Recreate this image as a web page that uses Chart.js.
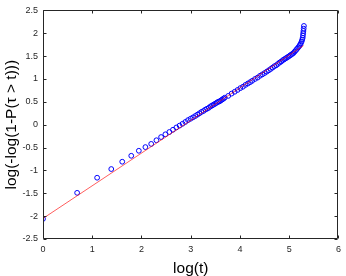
<!DOCTYPE html>
<html>
<head>
<meta charset="utf-8">
<script src="https://cdn.jsdelivr.net/npm/chart.js@4.4.0/dist/chart.umd.min.js"></script>
<style>
  html, body { margin: 0; padding: 0; background: #fff; }
  #wrap { width: 346px; height: 276px; }
</style>
</head>
<body>
<div id="wrap"><canvas id="chartContainer" width="346" height="276"></canvas></div>
<script>
var logT = [0, 0.693, 1.099, 1.386, 1.609, 1.792, 1.946, 2.079, 2.197, 2.303,
    2.398, 2.485, 2.565, 2.639, 2.708, 2.773, 2.833, 2.890, 2.944, 2.996,
    3.045, 3.091, 3.135, 3.178, 3.219, 3.258, 3.296, 3.332, 3.367, 3.401,
    3.434, 3.466, 3.497, 3.526, 3.555, 3.584, 3.611, 3.638, 3.664, 3.689,
    3.761, 3.829, 3.892, 3.951, 4.007, 4.060, 4.111, 4.159, 4.205, 4.248,
    4.304, 4.357, 4.407, 4.454, 4.500, 4.543, 4.585, 4.625, 4.663, 4.700,
    4.736, 4.771, 4.804, 4.836, 4.868, 4.898, 4.927, 4.956, 4.984, 5.011,
    5.037, 5.063, 5.088, 5.112, 5.136, 5.159, 5.182, 5.204, 5.220, 5.236,
    5.252, 5.263, 5.273, 5.278, 5.283, 5.288, 5.293, 5.298];
var logLogS = [-2.06, -1.49, -1.16, -0.97, -0.81, -0.68, -0.57, -0.49, -0.42, -0.34,
    -0.27, -0.21, -0.16, -0.11, -0.06, -0.02, 0.02, 0.06, 0.10, 0.13,
    0.16, 0.19, 0.22, 0.25, 0.28, 0.30, 0.33, 0.35, 0.37, 0.40,
    0.42, 0.44, 0.46, 0.48, 0.50, 0.51, 0.53, 0.55, 0.57, 0.59,
    0.63, 0.68, 0.72, 0.76, 0.80, 0.83, 0.87, 0.90, 0.93, 0.96,
    1.00, 1.03, 1.07, 1.10, 1.13, 1.16, 1.19, 1.22, 1.25, 1.28,
    1.30, 1.33, 1.36, 1.38, 1.41, 1.43, 1.45, 1.47, 1.49, 1.51,
    1.53, 1.55, 1.57, 1.60, 1.63, 1.66, 1.69, 1.72, 1.75, 1.78,
    1.82, 1.86, 1.90, 1.95, 2.00, 2.05, 2.10, 2.16];

// fitted straight line
var fitX = [0, 5.29];
var fitY = [-2.05, 1.73];

var xTicks = [0, 1, 2, 3, 4, 5, 6];
var yTicks = [-2.5, -2, -1.5, -1, -0.5, 0, 0.5, 1, 1.5, 2, 2.5];

var pts = logT.map(function(x, i){ return {x: x, y: logLogS[i]}; });
var fitPts = fitX.map(function(x, i){ return {x: x, y: fitY[i]}; });

var axisColor = '#262626';

// matlab style box with inward ticks on all four sides
var boxPlugin = {
    id: 'box',
    afterDatasetsDraw: function(chart){
        var ctx = chart.ctx, a = chart.chartArea;
        var xs = chart.scales.x, ys = chart.scales.y;
        ctx.save();
        ctx.strokeStyle = axisColor;
        ctx.lineWidth = 1;
        var L = Math.round(a.left) + 0.5, R = Math.round(a.right) - 0.5;
        var T = Math.round(a.top) + 0.5, B = Math.round(a.bottom) - 0.5;
        ctx.beginPath();
        ctx.rect(L, T, R - L, B - T);
        xTicks.forEach(function(v){
            var px = Math.round(xs.getPixelForValue(v)) + 0.5;
            ctx.moveTo(px, B); ctx.lineTo(px, B - 3);
            ctx.moveTo(px, T); ctx.lineTo(px, T + 3);
        });
        yTicks.forEach(function(v){
            var py = Math.round(ys.getPixelForValue(v)) + 0.5;
            ctx.moveTo(L, py); ctx.lineTo(L + 3, py);
            ctx.moveTo(R, py); ctx.lineTo(R - 3, py);
        });
        ctx.stroke();
        ctx.restore();
    }
};

var tickFont = { family: 'Liberation Sans, Arial', size: 9 };
var titleFont = { family: 'Liberation Sans, Arial', size: 15.5, lineHeight: 1 };

var myChart = new Chart('chartContainer', {
    type: 'scatter',
    data: {
        datasets: [{
            type: 'line',
            data: fitPts,
            borderColor: 'rgba(255,0,0,0.8)',
            borderWidth: 0.8,
            pointRadius: 0,
            fill: false,
            tension: 0
        }, {
            data: pts,
            pointStyle: 'circle',
            pointRadius: 2.4,
            pointBorderWidth: 1,
            pointBorderColor: '#0000ff',
            pointBackgroundColor: 'rgba(0,0,0,0)',
            showLine: false
        }]
    },
    options: {
        responsive: false,
        animation: false,
        events: [],
        layout: { padding: { top: 7, right: 4, left: 0, bottom: 0 } },
        plugins: { legend: { display: false }, tooltip: { enabled: false } },
        scales: {
            x: {
                type: 'linear', min: 0, max: 6,
                afterBuildTicks: function(s){ s.ticks = xTicks.map(function(v){ return {value: v}; }); },
                afterFit: function(s){ s.height = 37; },
                grid: { display: false, drawTicks: false },
                border: { display: false },
                ticks: { color: axisColor, font: tickFont, padding: 5, maxRotation: 0,
                    callback: function(v){ return String(v); } },
                title: { display: true, text: 'log(t)', color: '#000', font: titleFont, padding: { top: 1.5, bottom: 0 } }
            },
            y: {
                type: 'linear', min: -2.5, max: 2.5,
                afterBuildTicks: function(s){ s.ticks = yTicks.map(function(v){ return {value: v}; }); },
                afterFit: function(s){ s.width = 43; },
                grid: { display: false, drawTicks: false },
                border: { display: false },
                ticks: { color: axisColor, font: tickFont, padding: 5,
                    callback: function(v){ return String(v); } },
                title: { display: true, text: 'log(-log(1-P(\u03c4 > t)))', color: '#000', font: titleFont, padding: { top: 4, bottom: 0 } }
            }
        }
    },
    plugins: [boxPlugin]
});
</script>
</body>
</html>
